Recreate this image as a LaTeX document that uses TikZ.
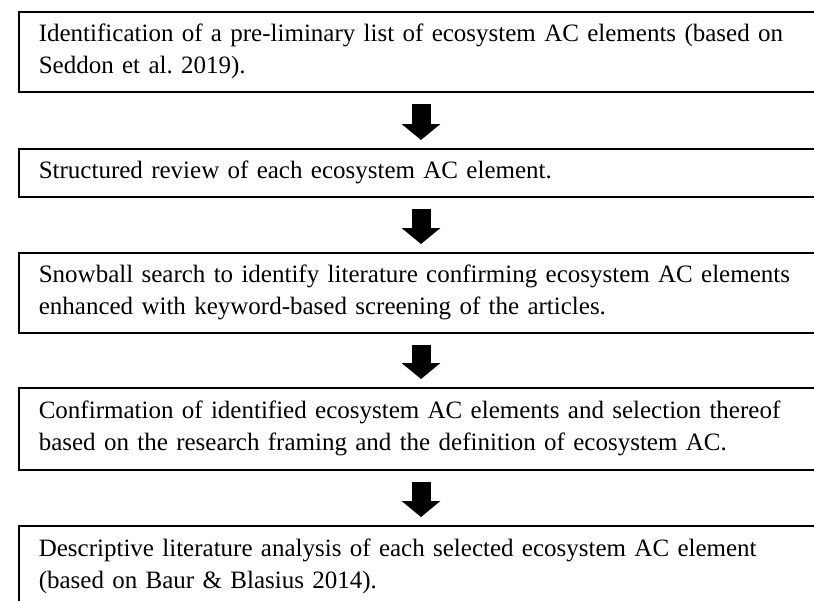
\documentclass[tikz,border=0pt]{standalone}
\usepackage{fontspec}
\setmainfont{Liberation Serif}
\usepackage{tikz}
\usetikzlibrary{positioning, arrows.meta}
\frenchspacing

\begin{document}
\begin{tikzpicture}[
		x=1pt, y=-1pt,
		stepbox/.style={draw, line width=1.6pt, anchor=north west, minimum width=820pt,
			text width=780pt, align=left, inner xsep=17pt, inner ysep=0pt,
			font=\fontsize{25}{32}\selectfont},
		blockarrow/.style={line width=19pt, -{Triangle[width=38pt,length=16pt]},
			shorten <=11pt, shorten >=8pt}]
		\useasboundingbox (0,0) rectangle (814,600);
		\fill[white] (0,0) rectangle (814,600);
		\clip (0,0) rectangle (814,600);

		\node[stepbox, minimum height=80pt] (list)    at (18,11)  {Identification of a pre-liminary list of ecosystem AC elements (based on\\Seddon et al. 2019).};
		\node[stepbox, minimum height=48pt] (review)  at (18,148) {Structured review of each ecosystem AC element.};
		\node[stepbox, minimum height=80pt] (snow)    at (18,252) {Snowball search to identify literature confirming ecosystem AC elements\\enhanced with keyword-based screening of the articles.};
		\node[stepbox, minimum height=82pt] (confirm) at (18,387) {Confirmation of identified ecosystem AC elements and selection thereof\\based on the research framing and the definition of ecosystem AC.};
		\node[stepbox, minimum height=82pt] (analysis) at (18,525) {Descriptive literature analysis of each selected ecosystem AC element\\(based on Baur \& Blasius 2014).};

		\coordinate (ax) at (421,0);
		\draw[blockarrow] (list.south -| ax)    -- (review.north -| ax);
		\draw[blockarrow] (review.south -| ax)  -- (snow.north -| ax);
		\draw[blockarrow] (snow.south -| ax)    -- (confirm.north -| ax);
		\draw[blockarrow] (confirm.south -| ax) -- (analysis.north -| ax);

\end{tikzpicture}
\end{document}
